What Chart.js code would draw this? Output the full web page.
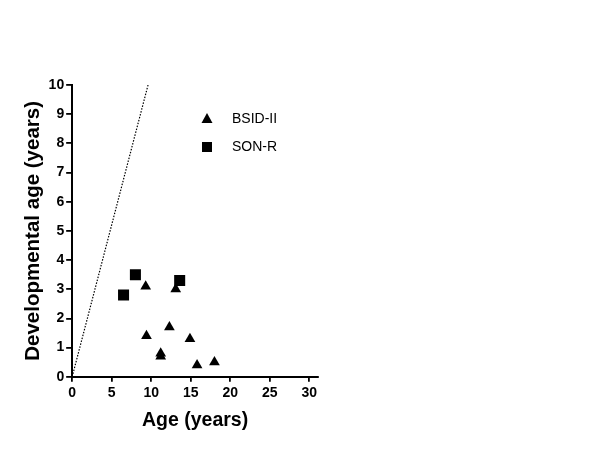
<!DOCTYPE html>
<html>
<head>
<meta charset="utf-8">
<script src="https://cdn.jsdelivr.net/npm/chart.js@4/dist/chart.umd.min.js"></script>
<style>
body { margin: 0; background: #fff; }
#wrap { width: 600px; height: 450px; }
</style>
</head>
<body>
<div id="wrap"><canvas id="devChart" width="600" height="450"></canvas></div>
<script>
// data
var bsidAge = [9.3, 13.1, 9.4, 12.3, 14.9, 11.2, 11.2, 15.8, 18.0];
var bsidDev = [3.1, 3.0, 1.4, 1.7, 1.3, 0.8, 0.7, 0.4, 0.5];
var sonrAge = [6.5, 8.0, 13.6];
var sonrDev = [2.8, 3.5, 3.3];
var refLineX = [0, 9.6];
var refLineY = [0, 10];
var xTicks = [0, 5, 10, 15, 20, 25, 30];
var yTicks = [0, 1, 2, 3, 4, 5, 6, 7, 8, 9, 10];

function toPoints(xs, ys) {
	return xs.map((x, i) => ({ x: x, y: ys[i] }));
}

// legend drawn inside the plot
const insideLegend = {
	id: "insideLegend",
	afterDraw(chart) {
		const ctx = chart.ctx;
		const items = [
			{ text: "BSID-II", style: "triangle" },
			{ text: "SON-R", style: "rect" },
		];
		ctx.save();
		ctx.fillStyle = "#000";
		ctx.font = "14px 'Liberation Sans', Arial, sans-serif";
		ctx.textBaseline = "middle";
		items.forEach((item, i) => {
			const cx = 207;
			const cy = 119 + i * 28;
			ctx.beginPath();
			if (item.style === "triangle") {
				ctx.moveTo(cx, cy - 6);
				ctx.lineTo(cx + 5.5, cy + 4);
				ctx.lineTo(cx - 5.5, cy + 4);
				ctx.closePath();
			} else {
				ctx.rect(cx - 5, cy - 5, 10, 10);
			}
			ctx.fill();
			ctx.fillText(item.text, 232, cy);
		});
		ctx.restore();
	},
};

const tickFont = { family: "'Liberation Sans', Arial, sans-serif", size: 14, weight: "bold" };
const xTitleFont = { family: "'Liberation Sans', Arial, sans-serif", size: 19.5, weight: "bold" };
const yTitleFont = { family: "'Liberation Sans', Arial, sans-serif", size: 20.5, weight: "bold" };

new Chart(document.getElementById("devChart"), {
	type: "scatter",
	data: {
		datasets: [
			{
				label: "line",
				data: toPoints(refLineX, refLineY),
				showLine: true,
				borderColor: "#000",
				borderWidth: 1.2,
				borderDash: [1.5, 1.5],
				pointRadius: 0,
			},
			{
				label: "BSID-II",
				data: toPoints(bsidAge, bsidDev),
				pointStyle: "triangle",
				pointRadius: 6.2,
				backgroundColor: "#000",
				borderColor: "#000",
				borderWidth: 0,
			},
			{
				label: "SON-R",
				data: toPoints(sonrAge, sonrDev),
				pointStyle: "rect",
				pointRadius: 7.8,
				backgroundColor: "#000",
				borderColor: "#000",
				borderWidth: 0,
			},
		],
	},
	options: {
		responsive: false,
		animation: false,
		layout: { padding: { left: 17, top: 85, right: 282, bottom: 14 } },
		plugins: {
			legend: { display: false },
			tooltip: { enabled: false },
		},
		scales: {
			x: {
				type: "linear",
				min: 0,
				max: 31.1,
				afterBuildTicks: (scale) => {
					scale.ticks = xTicks.map((v) => ({ value: v }));
				},
				ticks: { color: "#000", font: tickFont, padding: 3, maxRotation: 0 },
				grid: { drawOnChartArea: false, color: "#000", lineWidth: 1.8, tickLength: 5 },
				border: { color: "#000", width: 2 },
				title: { display: true, text: "Age (years)", color: "#000", font: xTitleFont, padding: { top: 4 } },
			},
			y: {
				type: "linear",
				min: 0,
				max: 10,
				afterBuildTicks: (scale) => {
					scale.ticks = yTicks.map((v) => ({ value: v }));
				},
				ticks: { color: "#000", font: tickFont, padding: 2 },
				grid: { drawOnChartArea: false, color: "#000", lineWidth: 1.8, tickLength: 6 },
				border: { color: "#000", width: 2 },
				title: { display: true, text: "Developmental age (years)", color: "#000", font: yTitleFont, padding: { bottom: 1 } },
			},
		},
	},
	plugins: [insideLegend],
});
</script>
</body>
</html>
